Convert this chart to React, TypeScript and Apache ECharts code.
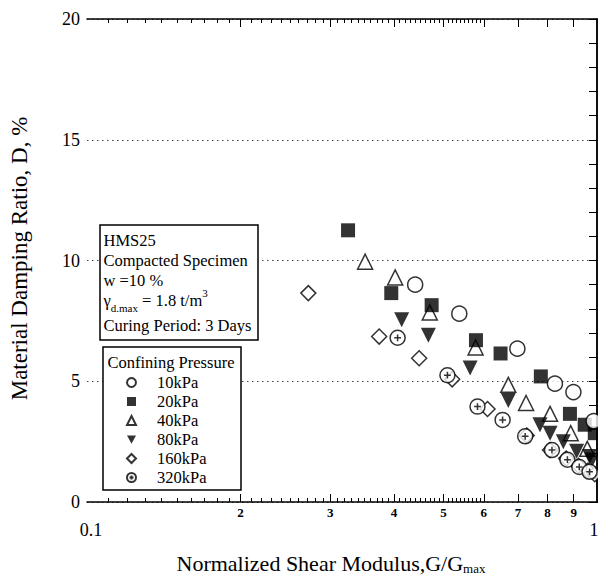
import React, { useEffect, useRef } from 'react';
import * as echarts from 'echarts';

const FONT = 'Liberation Serif';

// Tick / label values on the G/Gmax (log) axis
const xLabelValues = [0.1, 0.2, 0.3, 0.4, 0.5, 0.6, 0.7, 0.8, 0.9, 1];
const xMajorTicks = [0.2, 0.3, 0.4, 0.5, 0.6, 0.7, 0.8, 0.9];
const xMinorTicks = [
  0.11, 0.12, 0.13, 0.14, 0.15, 0.16, 0.17, 0.18, 0.19,
  0.21, 0.22, 0.23, 0.24, 0.25, 0.26, 0.27, 0.28, 0.29,
  0.31, 0.32, 0.33, 0.34, 0.35, 0.36, 0.37, 0.38, 0.39,
  0.41, 0.42, 0.43, 0.44, 0.45, 0.46, 0.47, 0.48, 0.49,
  0.51, 0.52, 0.53, 0.54, 0.55, 0.56, 0.57, 0.58, 0.59,
];

const seriesNames = ['10kPa', '20kPa', '40kPa', '80kPa', '160kPa', '320kPa'];

// [G/Gmax, D %]
const data10 = [[0.44, 9.0], [0.537, 7.8], [0.698, 6.35], [0.827, 4.9], [0.899, 4.55], [0.985, 3.35]];
const data20 = [[0.325, 11.25], [0.395, 8.65], [0.474, 8.15], [0.579, 6.7], [0.647, 6.15], [0.776, 5.2], [0.885, 3.65], [0.946, 3.2], [0.99, 2.85]];
const data40 = [[0.351, 9.95], [0.402, 9.3], [0.47, 7.85], [0.578, 6.4], [0.67, 4.85], [0.726, 4.1], [0.809, 3.65], [0.888, 2.85], [0.957, 2.2]];
const data80 = [[0.414, 7.55], [0.467, 6.9], [0.564, 5.55], [0.67, 4.2], [0.773, 3.2], [0.809, 2.85], [0.859, 2.5], [0.912, 2.1], [0.967, 1.88], [0.978, 1.74]];
const data160 = [[0.2716, 8.65], [0.374, 6.85], [0.448, 5.95], [0.52, 5.08], [0.61, 3.85], [0.728, 2.75], [0.809, 2.15], [0.87, 1.8], [0.92, 1.5], [0.96, 1.3], [0.99, 1.15]];
const data320 = [[0.4065, 6.8], [0.509, 5.25], [0.583, 3.95], [0.653, 3.4], [0.723, 2.72], [0.816, 2.15], [0.875, 1.75], [0.923, 1.45], [0.967, 1.25]];

const yMin = 0;
const yMax = 20;
const yInterval = 5;

const CIRCLE_PLUS = 'path://M12,2 A10,10 0 1,1 12,22 A10,10 0 1,1 12,2 Z M7.5,12 L16.5,12 M12,7.5 L12,16.5';
const TRI_DOWN = 'path://M0,0 L12,0 L6,11 Z';

const lx = (v: number) => Math.log10(v);
const tr = (d: number[][]) => d.map(([x, y]) => [lx(x), y]);

export default function App() {
  const ref = useRef<HTMLDivElement>(null);
  useEffect(() => {
    document.body.style.margin = '0';
    if (!ref.current) return;
    const chart = echarts.init(ref.current, null, { renderer: 'svg' });

    const open = { color: '#fff', borderColor: '#000', borderWidth: 1.5 };
    const filled = { color: '#000', borderColor: '#000', borderWidth: 0 };

    const xBase = {
      type: 'value',
      min: -1,
      max: 0,
      splitLine: { show: false },
    };

    const xLabelFormatter = (v: number) => {
      if (Math.abs(v + 1) < 1e-6) return '{big|0.1}';
      if (Math.abs(v) < 1e-6) return '{bigR|1}';
      return '{small|' + Math.round(Math.pow(10, v) * 10) + '}';
    };

    const yBase = {
      type: 'value',
      min: yMin,
      max: yMax,
      interval: yInterval,
      axisLine: { show: true, lineStyle: { color: '#000', width: 1.5 } },
      axisTick: { show: true, inside: true, length: 8, lineStyle: { color: '#000', width: 1 } },
      minorTick: { show: true, splitNumber: 5, length: 8, lineStyle: { color: '#000', width: 1 } },
    };

    const option: any = {
      animation: false,
      backgroundColor: '#fff',
      textStyle: { fontFamily: FONT, color: '#000' },
      grid: { left: 87, right: 1, top: 19, bottom: 74, outerBoundsMode: 'none', containLabel: false },
      xAxis: [
        {
          ...xBase,
          position: 'bottom',
          name: '{m|Normalized Shear Modulus,G/G}{s|max}',
          nameLocation: 'middle',
          nameGap: 49,
          nameTextStyle: {
            padding: [0, 22, 0, 0],
            rich: {
              m: { fontSize: 22, fontFamily: FONT, color: '#000', lineHeight: 24 },
              s: { fontSize: 13, fontFamily: FONT, color: '#000', verticalAlign: 'bottom' },
            },
          },
          axisLine: { show: true, onZero: false, lineStyle: { color: '#000', width: 1.5 } },
          axisTick: { show: true, inside: true, length: 8, customValues: xMajorTicks.map(lx), lineStyle: { color: '#000', width: 1 } },
          axisLabel: {
            show: true,
            customValues: xLabelValues.map(lx),
            margin: 4,
            formatter: xLabelFormatter,
            rich: {
              small: { fontSize: 13, fontWeight: 'bold', fontFamily: FONT, color: '#000' },
              big: { fontSize: 18, fontFamily: FONT, color: '#000', padding: [15, 0, 0, 8] },
              bigR: { fontSize: 18, fontFamily: FONT, color: '#000', padding: [15, 6, 0, 0] },
            },
          },
        },
        {
          ...xBase,
          position: 'bottom',
          axisLine: { show: false, onZero: false },
          axisTick: { show: true, inside: true, length: 4, customValues: xMinorTicks.map(lx), lineStyle: { color: '#000', width: 1 } },
          axisLabel: { show: false },
        },
        {
          ...xBase,
          position: 'top',
          axisLine: { show: true, onZero: false, lineStyle: { color: '#000', width: 1.5 } },
          axisTick: { show: true, inside: true, length: 8, customValues: xMajorTicks.map(lx), lineStyle: { color: '#000', width: 1 } },
          axisLabel: { show: false },
        },
        {
          ...xBase,
          position: 'top',
          axisLine: { show: false, onZero: false },
          axisTick: { show: true, inside: true, length: 4, customValues: xMinorTicks.map(lx), lineStyle: { color: '#000', width: 1 } },
          axisLabel: { show: false },
        },
      ],
      yAxis: [
        {
          ...yBase,
          position: 'left',
          name: 'Material Damping Ratio, D, %',
          nameLocation: 'middle',
          nameRotate: 90,
          nameGap: 56,
          nameTextStyle: { fontSize: 23, fontFamily: FONT, color: '#000', padding: [0, 0, 0, 4] },
          axisLabel: { show: true, fontSize: 18, fontFamily: FONT, color: '#000', margin: 7 },
          splitLine: { show: true, lineStyle: { color: '#444', width: 1, type: [1.5, 3.5] } },
        },
        {
          ...yBase,
          position: 'right',
          axisLabel: { show: false },
          splitLine: { show: false },
        },
      ],
      legend: {
        orient: 'vertical',
        left: 126,
        top: 373,
        padding: 0,
        itemGap: 0,
        itemWidth: 9,
        itemHeight: 9,
        selectedMode: false,
        data: seriesNames.map((n, i) => (i === 3 ? { name: n, icon: TRI_DOWN } : { name: n })),
        textStyle: { fontFamily: FONT, fontSize: 16.5, color: '#000', lineHeight: 19, padding: [0, 0, 0, 16] },
        z: 6,
      },
      graphic: [
        { type: 'rect', z: 1, shape: { x: 100, y: 225, width: 158, height: 115 }, style: { fill: '#fff', stroke: '#000', lineWidth: 1.5 } },
        { type: 'rect', z: 1, shape: { x: 103, y: 347, width: 138, height: 143 }, style: { fill: '#fff', stroke: '#000', lineWidth: 1.5 } },
        { type: 'text', z: 2, x: 103.5, y: 240.5, style: { text: 'HMS25', fontSize: 16.5, fontFamily: FONT, fill: '#000', verticalAlign: 'middle' } },
        { type: 'text', z: 2, x: 103.5, y: 260.5, style: { text: 'Compacted Specimen', fontSize: 16.5, fontFamily: FONT, fill: '#000', verticalAlign: 'middle' } },
        { type: 'text', z: 2, x: 103.5, y: 280.5, style: { text: 'w =10 %', fontSize: 16.5, fontFamily: FONT, fill: '#000', verticalAlign: 'middle' } },
        {
          type: 'text', z: 2, x: 103.5, y: 300.5,
          style: {
            text: '{m|γ}{s|d.max}{m| = 1.8 t/m}{p|3}',
            fontSize: 16.5, fontFamily: FONT, fill: '#000', verticalAlign: 'middle',
            rich: {
              m: { fontSize: 16.5, fontFamily: FONT, fill: '#000', lineHeight: 26 },
              s: { fontSize: 11, fontFamily: FONT, fill: '#000', verticalAlign: 'bottom' },
              p: { fontSize: 11, fontFamily: FONT, fill: '#000', verticalAlign: 'top' },
            },
          },
        },
        { type: 'text', z: 2, x: 103.5, y: 325, style: { text: 'Curing Period: 3 Days', fontSize: 16.5, fontFamily: FONT, fill: '#000', verticalAlign: 'middle' } },
        { type: 'text', z: 2, x: 171, y: 362, style: { text: 'Confining Pressure', fontSize: 16.5, fontFamily: FONT, fill: '#000', align: 'center', verticalAlign: 'middle' } },
      ],
      series: [
        { name: seriesNames[0], type: 'scatter', z: 4, symbol: 'circle', symbolSize: 15, itemStyle: open, data: tr(data10) },
        { name: seriesNames[1], type: 'scatter', z: 3, symbol: 'rect', symbolSize: 14, itemStyle: filled, data: tr(data20) },
        { name: seriesNames[2], type: 'scatter', z: 2, symbol: 'triangle', symbolSize: 15, itemStyle: open, data: tr(data40) },
        { name: seriesNames[3], type: 'scatter', z: 2, symbol: 'triangle', symbolRotate: 180, symbolSize: 15, itemStyle: filled, data: tr(data80) },
        { name: seriesNames[4], type: 'scatter', z: 2, symbol: 'diamond', symbolSize: 15, itemStyle: open, data: tr(data160) },
        { name: seriesNames[5], type: 'scatter', z: 2, symbol: CIRCLE_PLUS, symbolSize: 15, itemStyle: open, data: tr(data320) },
      ],
    };

    chart.setOption(option);
    return () => chart.dispose();
  }, []);

  return <div ref={ref} style={{ width: 598, height: 576 }} />;
}
